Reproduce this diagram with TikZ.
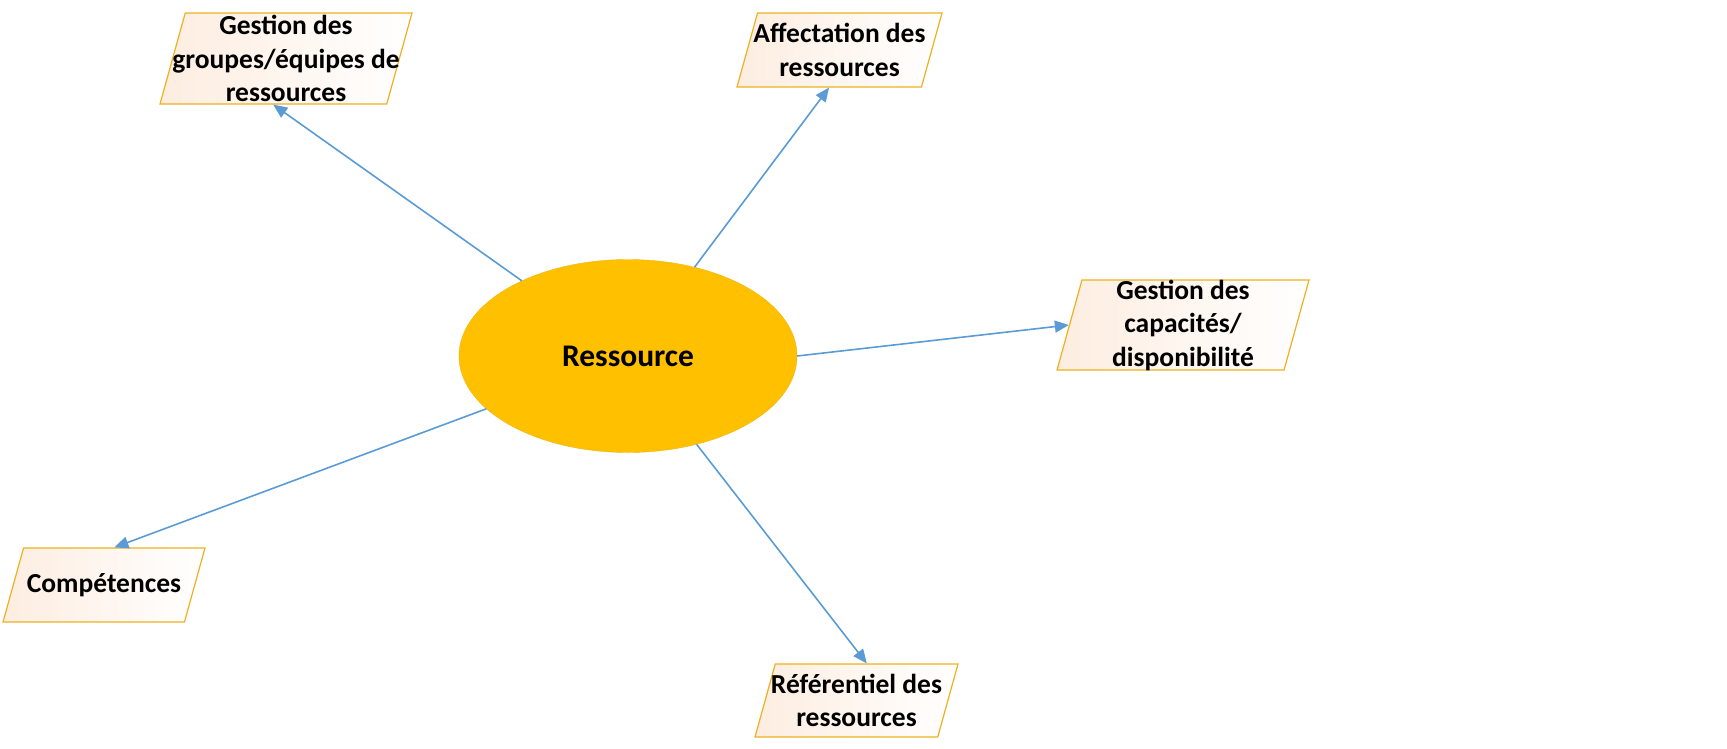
\documentclass[tikz,border=0pt]{standalone}
\usepackage{fontspec}
\setmainfont{Carlito}
\usetikzlibrary{shapes.geometric, arrows.meta}
\definecolor{ovalcolor}{RGB}{255,192,0}
\definecolor{boxedge}{RGB}{237,177,32}
\definecolor{boxfill}{RGB}{253,237,224}
\definecolor{linkcolor}{RGB}{91,155,213}

\tikzset{
  topic/.style={draw=boxedge, line width=1.2pt, trapezium, trapezium left angle=74.5, trapezium right angle=105.5, trapezium stretches body=true, inner sep=0pt, text depth=0pt, left color=boxfill, right color=white},
  topictext/.style={font=\fontsize{27.5}{33.5}\selectfont\bfseries, align=center},
  link/.style={draw=linkcolor, line width=1.6pt, -{Triangle[length=14pt, width=12pt]}},
}

\begin{document}
\begin{tikzpicture}[x=1pt, y=-1pt]
    \useasboundingbox (0,0) rectangle (1727,748);

    % Central oval
    \node[ellipse, fill=ovalcolor, draw=ovalcolor!85!gray, minimum width=338pt, minimum height=193pt, inner sep=0pt, font=\fontsize{31.5}{38}\selectfont\bfseries] (res) at (628,356) {Ressource};

    % Groups / teams
    \node[topic, minimum width=252pt, text height=91pt] (grp) at (286,58.5) {};
    \node[topictext] at (grp) {Gestion des\\groupes/équipes de\\ressources};

    % Allocation
    \node[topic, minimum width=205pt, text height=74pt] (aff) at (839.5,50) {};
    \node[topictext] at (aff) {Affectation des\\ressources};

    % Capacity
    \node[topic, minimum width=252pt, text height=90pt] (cap) at (1183,325) {};
    \node[topictext] at (cap) {Gestion des\\capacités/\\disponibilité};

    % Skills
    \node[topic, minimum width=202pt, text height=74pt] (comp) at (104,585) {};
    \node[topictext] at (comp) {Compétences};

    % Repository
    \node[topic, minimum width=203pt, text height=73pt] (ref) at (856.5,700.5) {};
    \node[topictext] at (ref) {Référentiel des\\ressources};

    % Links
    \draw[link] (res) -- (grp.bottom side);
    \draw[link] (res) -- (aff.bottom side);
    \draw[link] (res.east) -- (cap.left side);
    \draw[link] (res) -- (comp.top side);
    \draw[link] (res) -- (ref.top side);

\end{tikzpicture}
\end{document}
